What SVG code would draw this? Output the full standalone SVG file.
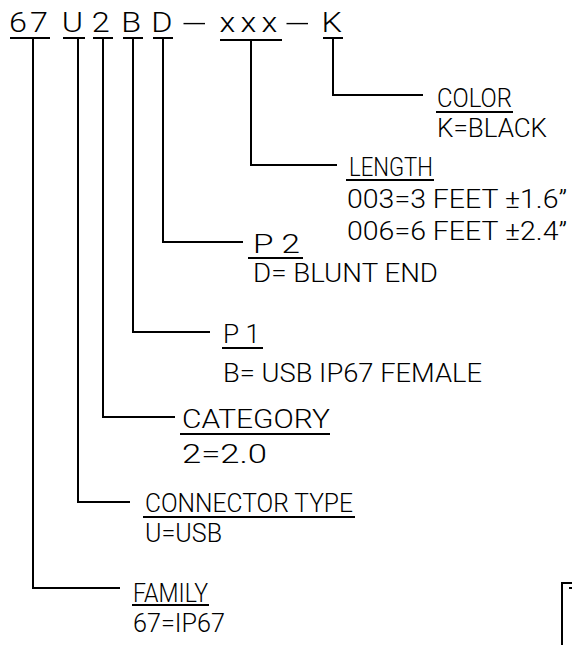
<svg xmlns="http://www.w3.org/2000/svg" width="572" height="645" viewBox="0 0 572 645">
<style>
text{font-family:Roboto,"Liberation Sans",Arial,sans-serif;font-weight:300;font-size:26px;fill:#000}
.t{font-size:27px}
line,polyline{stroke:#000;stroke-width:2;fill:none}
</style>
<rect width="572" height="645" fill="#fff"/>
<g id="title">
<text class="t" transform="scale(1.2,1)" y="32"><tspan x="7.5 25 51.5 76.5 101 126">67U2BD</tspan><tspan x="151" textLength="22" lengthAdjust="spacingAndGlyphs">-</tspan><tspan x="183 200.5 218">xxx</tspan><tspan x="237" textLength="22" lengthAdjust="spacingAndGlyphs">-</tspan><tspan x="268">K</tspan></text>
<line x1="10" y1="38" x2="50" y2="38"/>
<line x1="63" y1="38" x2="85" y2="38"/>
<line x1="93" y1="38" x2="113" y2="38"/>
<line x1="123" y1="38" x2="143" y2="38"/>
<line x1="153" y1="38" x2="173" y2="38"/>
<line x1="220" y1="40" x2="282" y2="40"/>
<line x1="323" y1="38" x2="343" y2="38"/>
</g>
<g id="connectors">
<polyline points="333,38 333,95 423,95"/>
<polyline points="251,40 251,165 337,165"/>
<polyline points="163,38 163,242 243,242"/>
<polyline points="133,38 133,332 210,332"/>
<polyline points="103,38 103,417 175,417"/>
<polyline points="78,38 78,502 130,502"/>
<polyline points="33,38 33,588 120,588"/>
</g>
<g id="color">
<text x="437" y="107" textLength="75" lengthAdjust="spacingAndGlyphs">COLOR</text>
<line x1="436" y1="112" x2="513" y2="112"/>
<text x="437" y="137" textLength="110" lengthAdjust="spacingAndGlyphs">K=BLACK</text>
</g>
<g id="length">
<text x="349" y="176" textLength="84" lengthAdjust="spacingAndGlyphs">LENGTH</text>
<line x1="346" y1="180" x2="434" y2="180"/>
<text x="347" y="208" textLength="220" lengthAdjust="spacingAndGlyphs">003=3 FEET ±1.6”</text>
<text x="347" y="240" textLength="220" lengthAdjust="spacingAndGlyphs">006=6 FEET ±2.4”</text>
</g>
<g id="p2">
<text x="253" y="253" textLength="47" lengthAdjust="spacingAndGlyphs">P 2</text>
<line x1="248" y1="258" x2="303" y2="258"/>
<text x="253" y="282" textLength="185" lengthAdjust="spacingAndGlyphs">D= BLUNT END</text>
</g>
<g id="p1">
<text x="223" y="343" textLength="37" lengthAdjust="spacingAndGlyphs">P 1</text>
<line x1="222" y1="348" x2="263" y2="348"/>
<text x="223" y="382" textLength="259" lengthAdjust="spacingAndGlyphs">B= USB IP67 FEMALE</text>
</g>
<g id="category">
<text x="182" y="428" textLength="148" lengthAdjust="spacingAndGlyphs">CATEGORY</text>
<line x1="180" y1="434" x2="330" y2="434"/>
<text x="182" y="463" textLength="85" lengthAdjust="spacingAndGlyphs">2=2.0</text>
</g>
<g id="connector-type">
<text x="145" y="512" textLength="208" lengthAdjust="spacingAndGlyphs">CONNECTOR TYPE</text>
<line x1="143" y1="517" x2="355" y2="517"/>
<text x="145" y="542" textLength="77" lengthAdjust="spacingAndGlyphs">U=USB</text>
</g>
<g id="family">
<text x="133" y="602" textLength="75" lengthAdjust="spacingAndGlyphs">FAMILY</text>
<line x1="132" y1="605" x2="209" y2="605"/>
<text x="133" y="632" textLength="92" lengthAdjust="spacingAndGlyphs">67=IP67</text>
</g>
<g id="frame">
<polyline points="562,645 562,583 572,583"/>
<line x1="569" y1="588" x2="572" y2="588"/>
</g>
</svg>
